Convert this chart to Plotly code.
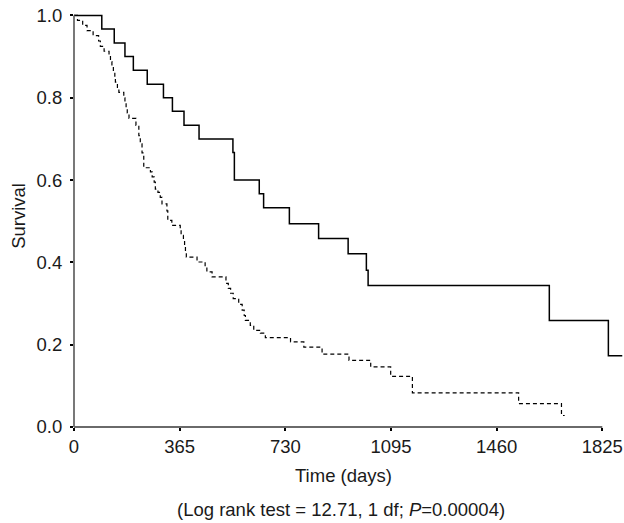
import plotly.graph_objects as go

# Solid group (Kaplan-Meier steps): time in days, survival after the step
solid_days = [0, 96, 139, 176, 205, 253, 309, 340, 380, 432, 549, 554, 640, 655, 744,
              845, 947, 1010, 1016, 1642, 1846, 1894]
solid_surv = [1.0, 0.967, 0.933, 0.9, 0.867, 0.833, 0.8, 0.767, 0.733, 0.7, 0.667, 0.6,
              0.567, 0.533, 0.494, 0.458, 0.421, 0.381, 0.344, 0.259, 0.173, 0.173]

# Dashed group
dash_days = [0, 12, 30, 45, 66, 85, 91, 104, 121, 126, 131, 136, 141, 143, 150, 155,
             172, 176, 180, 184, 190, 214, 224, 229, 235, 241, 264, 270, 277, 281,
             290, 298, 304, 321, 324, 338, 367, 370, 378, 382, 385, 388, 425, 453,
             459, 477, 525, 533, 541, 550, 569, 581, 588, 592, 609, 621, 644, 661,
             748, 794, 857, 950, 1025, 1094, 1169, 1536, 1684, 1695]
dash_surv = [1.0, 0.988, 0.976, 0.963, 0.951, 0.938, 0.925, 0.913, 0.9, 0.888, 0.875,
             0.863, 0.85, 0.838, 0.825, 0.813, 0.8, 0.788, 0.775, 0.763, 0.75, 0.733,
             0.708, 0.688, 0.666, 0.63, 0.62, 0.608, 0.595, 0.578, 0.57, 0.558, 0.542,
             0.525, 0.502, 0.49, 0.478, 0.466, 0.453, 0.44, 0.425, 0.413, 0.401, 0.389,
             0.377, 0.365, 0.349, 0.337, 0.325, 0.312, 0.298, 0.284, 0.271, 0.259,
             0.247, 0.235, 0.228, 0.217, 0.207, 0.194, 0.177, 0.162, 0.146, 0.123,
             0.083, 0.057, 0.028, 0.028]

x_ticks = [0, 365, 730, 1095, 1460, 1825]
y_ticks = [0.0, 0.2, 0.4, 0.6, 0.8, 1.0]

X_MAX = 1900
Y_MAX = 1.006
FONT = "Liberation Sans, Arial, sans-serif"
FS = 18.5
TXT = "#1a1a1a"

fig = go.Figure()
fig.add_trace(go.Scatter(x=dash_days, y=dash_surv, mode="lines",
                         line=dict(shape="hv", color="black", width=1.2, dash="4px,3px"),
                         showlegend=False, hoverinfo="skip"))
fig.add_trace(go.Scatter(x=solid_days, y=solid_surv, mode="lines",
                         line=dict(shape="hv", color="black", width=1.5),
                         showlegend=False, hoverinfo="skip"))

axis_col = "#6a6a6a"
# axis lines (x axis only to 1825, y axis only to 1.0)
fig.add_shape(type="line", xref="paper", yref="paper", x0=0, x1=x_ticks[-1] / X_MAX,
              y0=0, y1=0, line=dict(color=axis_col, width=1.8))
fig.add_shape(type="line", xref="paper", yref="paper", x0=0, x1=0,
              y0=0, y1=y_ticks[-1] / Y_MAX, line=dict(color=axis_col, width=1.8))

fig.update_xaxes(range=[0, X_MAX], tickvals=x_ticks, ticktext=[str(v) for v in x_ticks],
                 showgrid=False, zeroline=False, showline=False,
                 ticks="outside", ticklen=3, tickwidth=2, tickcolor="black",
                 ticklabeloverflow="allow",
                 tickfont=dict(family=FONT, size=FS, color=TXT))
fig.update_yaxes(range=[0, Y_MAX], tickvals=y_ticks, ticktext=[f"{v:.1f}" for v in y_ticks],
                 showgrid=False, zeroline=False, showline=False,
                 ticks="outside", ticklen=3, tickwidth=2, tickcolor="black",
                 ticklabelstandoff=4, ticklabeloverflow="allow",
                 tickfont=dict(family=FONT, size=FS, color=TXT))

fig.add_annotation(text="Time (days)", xref="x", yref="paper", x=930, y=-0.118,
                   showarrow=False, xanchor="center", yanchor="middle",
                   font=dict(family=FONT, size=FS, color=TXT))
fig.add_annotation(text="(Log rank test = 12.71, 1 df; <i>P</i>=0.00004)",
                   xref="x", yref="paper", x=923, y=-0.2,
                   showarrow=False, xanchor="center", yanchor="middle",
                   font=dict(family=FONT, size=FS, color=TXT))
fig.add_annotation(text="Survival", xref="paper", yref="paper", x=-0.1, y=0.51,
                   textangle=-90, showarrow=False, xanchor="center", yanchor="middle",
                   font=dict(family=FONT, size=FS, color=TXT))

fig.update_layout(width=624, height=523, margin=dict(l=74, r=0, t=13, b=96),
                  paper_bgcolor="white", plot_bgcolor="white")

# remove the page's default 8px body margin so the 624x523 figure fills the window
fig.write_html("out.html", config={"displayModeBar": False},
               post_script="document.body.style.margin='0';")
